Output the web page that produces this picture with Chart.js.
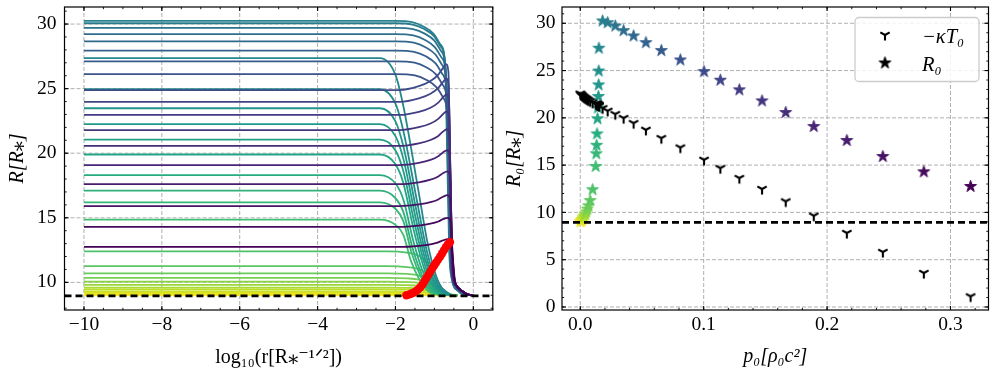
<!DOCTYPE html>
<html><head><meta charset="utf-8">
<script src="https://cdn.jsdelivr.net/npm/chart.js@4/dist/chart.umd.min.js"></script>
<style>
html,body{margin:0;padding:0;background:#fff;}
#wrap{position:relative;width:997px;height:379px;overflow:hidden;}
#c1{position:absolute;left:0;top:0;}
#c2{position:absolute;left:500px;top:0;}
</style></head><body>
<div id="wrap"><canvas id="c1" width="500" height="379"></canvas><canvas id="c2" width="497" height="379"></canvas></div>
<script>
// ---------------- DATA ----------------
const rStar = 8.95; // dashed reference level

// Left panel: radial profiles R(log10 r), grouped by branch (yellow -> purple)
const profilesLow = [
 [[-10,9.0],[-0.4,9.0]],
 [[-10,9.1],[-2.2,9.1],[-1.7,9.1],[-1.4,9.09],[-1.2,9.08],[-1.0,9.05],[-0.8,9.02],[-0.6,9.0],[-0.4,9.0]],
 [[-10,9.2],[-2.2,9.2],[-1.7,9.19],[-1.4,9.18],[-1.2,9.15],[-1.0,9.09],[-0.8,9.03],[-0.6,9.01],[-0.4,9.0]],
 [[-10,9.3],[-2.2,9.3],[-1.7,9.29],[-1.4,9.27],[-1.2,9.23],[-1.0,9.14],[-0.8,9.05],[-0.6,9.01],[-0.4,9.0]],
 [[-10,9.45],[-2.2,9.45],[-1.7,9.44],[-1.4,9.41],[-1.2,9.34],[-1.0,9.2],[-0.8,9.07],[-0.6,9.01],[-0.4,9.0]],
 [[-10,9.6],[-2.2,9.6],[-1.7,9.58],[-1.4,9.54],[-1.2,9.45],[-1.0,9.27],[-0.8,9.09],[-0.6,9.02],[-0.4,9.0]],
 [[-10,9.8],[-2.2,9.8],[-1.7,9.78],[-1.4,9.72],[-1.2,9.6],[-1.0,9.36],[-0.8,9.12],[-0.6,9.02],[-0.4,9.0]],
 [[-10,10.05],[-2.2,10.05],[-1.7,10.02],[-1.4,9.95],[-1.2,9.79],[-1.0,9.47],[-0.8,9.16],[-0.6,9.03],[-0.4,9.0]],
 [[-10,10.35],[-2.2,10.35],[-1.7,10.31],[-1.4,10.22],[-1.2,10.01],[-1.0,9.61],[-0.8,9.2],[-0.6,9.04],[-0.4,9.0]],
 [[-10,10.7],[-2.2,10.7],[-1.7,10.65],[-1.4,10.53],[-1.2,10.28],[-1.0,9.77],[-0.8,9.26],[-0.6,9.05],[-0.4,9.0]],
 [[-10,11.25],[-2.2,11.25],[-1.7,11.18],[-1.4,11.03],[-1.2,10.69],[-1.0,10.01],[-0.8,9.34],[-0.6,9.07],[-0.4,9.0]],
 [[-10,12.4],[-2.2,12.4],[-1.7,12.3],[-1.4,12.06],[-1.2,11.55],[-1.0,10.53],[-0.8,9.51],[-0.6,9.1],[-0.4,9.0]]
];
const profilesMid = [
 [[-10,14.86],[-2.4,14.86],[-2.0,14.45],[-1.8,13.69],[-1.6,11.64],[-1.375,10.17],[-1.15,9.29],[-0.85,9.0]],
 [[-10,16.2],[-2.4,16.2],[-2.0,15.7],[-1.8,14.76],[-1.58,12.24],[-1.35,10.44],[-1.12,9.36],[-0.82,9.0]],
 [[-10,17.1],[-2.4,17.1],[-2.0,16.53],[-1.8,15.48],[-1.56,12.65],[-1.325,10.62],[-1.09,9.41],[-0.79,9.0]],
 [[-10,18.3],[-2.4,18.3],[-2.0,17.65],[-1.8,16.44],[-1.54,13.19],[-1.3,10.86],[-1.06,9.47],[-0.76,9.0]],
 [[-10,19.9],[-2.4,19.9],[-2.0,19.14],[-1.8,17.72],[-1.52,13.91],[-1.275,11.18],[-1.03,9.55],[-0.73,9.0]],
 [[-10,21.05],[-2.4,21.05],[-2.0,20.21],[-1.8,18.64],[-1.5,14.42],[-1.25,11.41],[-1.0,9.6],[-0.7,9.0]],
 [[-10,22.25],[-2.4,22.25],[-2.0,21.32],[-1.8,19.6],[-1.48,14.96],[-1.225,11.65],[-0.97,9.66],[-0.67,9.0]],
 [[-10,23.48],[-2.4,23.48],[-2.0,22.47],[-1.8,20.58],[-1.46,15.52],[-1.2,11.9],[-0.94,9.72],[-0.64,9.0]],
 [[-10,24.95],[-2.4,24.95],[-2.0,23.83],[-1.8,21.76],[-1.44,16.18],[-1.175,12.19],[-0.91,9.8],[-0.61,9.0]],
 [[-10,27.36],[-2.4,27.36],[-2.0,26.07],[-1.8,23.69],[-1.42,17.26],[-1.15,12.67],[-0.88,9.92],[-0.58,9.0]]
];
const profilesHigh = [
 [[-10,30.24],[-2.0,30.24],[-1.57,30.14],[-1.27,29.79],[-1.02,29.24],[-0.85,28.44],[-0.73,27.04],[-0.67,19.77],[-0.62,12.5],[-0.55,10.2],[-0.42,9.4],[-0.22,9.05],[-0.05,9.0]],
 [[-10,30.06],[-2.0,30.06],[-1.56,29.96],[-1.26,29.61],[-1.01,29.06],[-0.84,28.26],[-0.72,26.86],[-0.66,19.68],[-0.61,12.5],[-0.54,10.2],[-0.41,9.4],[-0.21,9.05],[-0.04,9.0]],
 [[-10,29.71],[-2.0,29.71],[-1.55,29.61],[-1.25,29.26],[-1.0,28.71],[-0.83,27.91],[-0.71,26.51],[-0.65,19.51],[-0.60,12.5],[-0.53,10.2],[-0.40,9.4],[-0.20,9.05],[-0.03,9.0]],
 [[-10,29.22],[-2.0,29.22],[-1.54,29.12],[-1.24,28.77],[-0.99,28.22],[-0.82,27.42],[-0.70,26.02],[-0.64,19.26],[-0.59,12.5],[-0.52,10.2],[-0.39,9.4],[-0.19,9.05],[-0.02,9.0]],
 [[-10,28.66],[-2.0,28.66],[-1.53,28.56],[-1.23,28.21],[-0.98,27.66],[-0.81,26.86],[-0.69,25.46],[-0.63,18.98],[-0.58,12.5],[-0.51,10.2],[-0.38,9.4],[-0.18,9.05],[-0.01,9.0]],
 [[-10,27.95],[-2.0,27.95],[-1.52,27.85],[-1.22,27.5],[-0.97,26.95],[-0.80,26.15],[-0.68,24.75],[-0.62,18.63],[-0.57,12.5],[-0.50,10.2],[-0.37,9.4],[-0.17,9.05],[0.0,9.0]],
 [[-10,27.11],[-2.0,27.11],[-1.51,27.01],[-1.21,26.66],[-0.96,26.11],[-0.79,25.31],[-0.67,23.91],[-0.61,18.21],[-0.56,12.5],[-0.49,10.2],[-0.36,9.4],[-0.16,9.05],[0.01,9.0]],
 [[-10,26.12],[-2.0,26.12],[-1.50,26.02],[-1.20,25.67],[-0.95,25.12],[-0.78,24.32],[-0.66,22.92],[-0.60,17.71],[-0.55,12.5],[-0.48,10.2],[-0.35,9.4],[-0.15,9.05],[0.02,9.0]],
 [[-10,24.89],[-1.9,24.89],[-1.4,25.19],[-1.1,25.59],[-0.9,26.09],[-0.78,26.59],[-0.70,26.89],[-0.64,26.29],[-0.60,18.9],[-0.57,11.5],[-0.53,10.2],[-0.42,9.7],[-0.3,9.35],[-0.18,9.12],[-0.05,9.0]],
 [[-10,23.98],[-1.9,23.98],[-1.4,24.25],[-1.1,24.61],[-0.9,25.06],[-0.78,25.51],[-0.694,25.78],[-0.634,25.24],[-0.594,18.37],[-0.564,11.5],[-0.524,10.2],[-0.42,9.7],[-0.3,9.35],[-0.18,9.12],[-0.05,9.0]],
 [[-10,22.96],[-1.9,22.96],[-1.4,23.2],[-1.1,23.52],[-0.9,23.92],[-0.78,24.32],[-0.688,24.56],[-0.628,24.08],[-0.588,17.79],[-0.558,11.5],[-0.518,10.2],[-0.42,9.7],[-0.3,9.35],[-0.18,9.12],[-0.05,9.0]],
 [[-10,21.79],[-1.9,21.79],[-1.4,22.01],[-1.1,22.3],[-0.9,22.66],[-0.78,23.02],[-0.682,23.24],[-0.622,22.81],[-0.582,17.16],[-0.552,11.5],[-0.512,10.2],[-0.42,9.7],[-0.3,9.35],[-0.18,9.12],[-0.05,9.0]],
 [[-10,20.56],[-1.9,20.56],[-1.4,20.76],[-1.1,21.02],[-0.9,21.34],[-0.78,21.67],[-0.676,21.86],[-0.616,21.47],[-0.576,16.49],[-0.546,11.5],[-0.506,10.2],[-0.42,9.7],[-0.3,9.35],[-0.18,9.12],[-0.05,9.0]],
 [[-10,19.08],[-1.9,19.08],[-1.4,19.25],[-1.1,19.48],[-0.9,19.77],[-0.78,20.06],[-0.67,20.23],[-0.61,19.89],[-0.57,15.7],[-0.54,11.5],[-0.5,10.2],[-0.42,9.7],[-0.3,9.35],[-0.18,9.12],[-0.05,9.0]],
 [[-10,17.6],[-1.9,17.6],[-1.4,17.75],[-1.1,17.95],[-0.9,18.2],[-0.78,18.45],[-0.664,18.6],[-0.604,18.3],[-0.564,14.9],[-0.534,11.5],[-0.494,10.2],[-0.42,9.7],[-0.3,9.35],[-0.18,9.12],[-0.05,9.0]],
 [[-10,15.91],[-1.9,15.91],[-1.4,16.04],[-1.1,16.21],[-0.9,16.42],[-0.78,16.63],[-0.658,16.76],[-0.598,16.51],[-0.558,14.0],[-0.528,11.5],[-0.488,10.2],[-0.42,9.7],[-0.3,9.35],[-0.18,9.12],[-0.05,9.0]],
 [[-10,14.29],[-1.9,14.29],[-1.4,14.4],[-1.1,14.54],[-0.9,14.71],[-0.78,14.89],[-0.652,14.99],[-0.592,14.78],[-0.552,13.14],[-0.522,11.5],[-0.482,10.2],[-0.42,9.7],[-0.3,9.35],[-0.18,9.12],[-0.05,9.0]],
 [[-10,12.74],[-1.9,12.74],[-1.4,12.83],[-1.1,12.95],[-0.9,13.1],[-0.78,13.25],[-0.646,13.34],[-0.586,13.16],[-0.546,12.33],[-0.516,11.5],[-0.476,10.2],[-0.42,9.7],[-0.3,9.35],[-0.18,9.12],[-0.05,9.0]]
];
// red markers on the left panel
const redX = [-1.72,-1.66,-1.6,-1.54,-1.48,-1.42,-1.36,-1.3,-1.25,-1.2,-1.15,-1.1,-1.05,-1.0,-0.95,-0.9,-0.85,-0.8,-0.75,-0.7,-0.65,-0.6];
const redY = [9.0,9.05,9.12,9.2,9.3,9.45,9.62,9.85,10.1,10.35,10.6,10.85,11.1,11.32,11.55,11.78,12.0,12.25,12.5,12.75,12.95,13.1];

// Right panel: p0, R0 and -kappa T0 per solution (same order as profiles)
const pLow   = [0.0000,0.0006,0.0012,0.0018,0.0025,0.0032,0.0040,0.0048,0.0057,0.0066,0.0080,0.0100];
const R0Low  = [9.0,9.1,9.2,9.3,9.45,9.6,9.8,10.05,10.35,10.7,11.25,12.4];
const kT0Low = [22.55,22.45,22.38,22.3,22.22,22.15,22.08,22.0,21.93,21.85,21.75,21.6];
const pMid   = [0.0125,0.0130,0.0133,0.0136,0.0140,0.0143,0.0147,0.0149,0.0150,0.0151];
const R0Mid  = [14.86,16.2,17.1,18.3,19.9,21.05,22.25,23.48,24.95,27.36];
const kT0Mid = [21.5,21.47,21.45,21.42,21.4,21.37,21.35,21.33,21.31,21.28];
const pHigh   = [0.0181,0.0222,0.0284,0.0351,0.0432,0.0532,0.0657,0.0811,0.1003,0.1135,0.1289,0.1473,0.1665,0.1892,0.2160,0.2452,0.2784,0.3163];
const R0High  = [30.24,30.06,29.71,29.22,28.66,27.95,27.11,26.12,24.89,23.98,22.96,21.79,20.56,19.08,17.60,15.91,14.29,12.74];
const kT0High = [21.02,20.74,20.39,19.97,19.44,18.73,17.85,16.86,15.56,14.68,13.63,12.47,11.16,9.65,7.82,5.81,3.59,1.12];

// ticks
const xTicksLeft = [-10,-8,-6,-4,-2,0];
const yTicksLeft = [10,15,20,25,30];
const xTicksRight = [0.0,0.1,0.2,0.3];
const yTicksRight = [0,5,10,15,20,25,30];

// ---------------- STYLE / HELPERS ----------------
const SERIF = "'Liberation Serif','DejaVu Serif',serif";
Chart.defaults.color = '#000';
Chart.defaults.font.family = SERIF;

const VIRIDIS = ['#440154','#482475','#414487','#355f8d','#2a788e','#21918c','#22a884','#44bf70','#7ad151','#bddf26','#fde725'];
function hexRgb(h){return [parseInt(h.slice(1,3),16),parseInt(h.slice(3,5),16),parseInt(h.slice(5,7),16)];}
function viridis(t){
  t=Math.max(0,Math.min(1,t)); const f=t*10; const k=Math.min(9,Math.floor(f)); const u=f-k;
  const a=hexRgb(VIRIDIS[k]), b=hexRgb(VIRIDIS[k+1]);
  return 'rgb('+a.map((v,j)=>Math.round(v+(b[j]-v)*u)).join(',')+')';
}
const profiles = profilesLow.concat(profilesMid, profilesHigh);
const N = profiles.length;
const colors = profiles.map((_,i)=>viridis(1 - i/(N-1)));

const pAll = pLow.concat(pMid, pHigh);
const R0All = R0Low.concat(R0Mid, R0High);
const kT0All = kT0Low.concat(kT0Mid, kT0High);

function makeStar(color, r){
  const s = Math.ceil(2*r+4); const c=document.createElement('canvas'); c.width=s; c.height=s;
  const g=c.getContext('2d'); g.translate(s/2,s/2); g.beginPath();
  for(let k=0;k<10;k++){const rr=k%2===0?r:r*0.381966; const a=-Math.PI/2+k*Math.PI/5; g.lineTo(rr*Math.cos(a),rr*Math.sin(a));}
  g.closePath(); g.fillStyle=color; g.fill(); g.strokeStyle=color; g.lineWidth=1; g.lineJoin='miter'; g.stroke();
  return c;
}
function makeTri(r, lw){
  const s = Math.ceil(2*r+lw+3); const c=document.createElement('canvas'); c.width=s; c.height=s;
  const g=c.getContext('2d'); g.translate(s/2,s/2); g.strokeStyle='#000'; g.lineWidth=lw; g.lineCap='butt';
  g.beginPath(); g.moveTo(0,0); g.lineTo(0,r); g.moveTo(0,0); g.lineTo(-0.866*r,-0.5*r); g.moveTo(0,0); g.lineTo(0.866*r,-0.5*r); g.stroke();
  return c;
}
const starImgs = pAll.map((_,i)=>makeStar(colors[i],6.2));
const triImg = makeTri(5.4,2.1);
const starBlack = makeStar('#000',6.2);

function range(a,b,st){const out=[];for(let v=a;v<=b+1e-9;v+=st)out.push(+v.toFixed(6));return out;}

function framePlugin(cfg){
  return {
    id:'frame',
    beforeDatasetsDraw(chart){
      const {ctx, chartArea:a} = chart; const xs=chart.scales.x, ys=chart.scales.y;
      ctx.save(); ctx.strokeStyle='#9c9c9c'; ctx.lineWidth=0.8; ctx.setLineDash([4,2]);
      cfg.xMajor.forEach(v=>{const p=xs.getPixelForValue(v); ctx.beginPath(); ctx.moveTo(p,a.top); ctx.lineTo(p,a.bottom); ctx.stroke();});
      cfg.yMajor.forEach(v=>{const p=ys.getPixelForValue(v); ctx.beginPath(); ctx.moveTo(a.left,p); ctx.lineTo(a.right,p); ctx.stroke();});
      ctx.restore();
    },
    afterDraw(chart){
      const {ctx, chartArea:a} = chart; const xs=chart.scales.x, ys=chart.scales.y;
      ctx.save(); ctx.strokeStyle='#000'; ctx.setLineDash([]);
      const tick=(x1,y1,x2,y2)=>{ctx.beginPath();ctx.moveTo(x1,y1);ctx.lineTo(x2,y2);ctx.stroke();};
      const inX=v=>{const p=xs.getPixelForValue(v); return p>=a.left-0.5 && p<=a.right+0.5 ? p : null;};
      const inY=v=>{const p=ys.getPixelForValue(v); return p>=a.top-0.5 && p<=a.bottom+0.5 ? p : null;};
      ctx.lineWidth=0.9;
      cfg.xMinor.forEach(v=>{const p=inX(v); if(p===null)return; tick(p,a.bottom,p,a.bottom-2.2); tick(p,a.top,p,a.top+2.2);});
      cfg.yMinor.forEach(v=>{const p=inY(v); if(p===null)return; tick(a.left,p,a.left+2.2,p); tick(a.right,p,a.right-2.2,p);});
      ctx.lineWidth=1.1;
      cfg.xMajor.forEach(v=>{const p=inX(v); if(p===null)return; tick(p,a.bottom,p,a.bottom-4); tick(p,a.top,p,a.top+4);});
      cfg.yMajor.forEach(v=>{const p=inY(v); if(p===null)return; tick(a.left,p,a.left+4,p); tick(a.right,p,a.right-4,p);});
      ctx.lineWidth=1.2;
      ctx.strokeRect(a.left,a.top,a.right-a.left,a.bottom-a.top);
      ctx.restore();
    }
  };
}

const legendPlugin = {
  id:'legendBox',
  afterDraw(chart){
    const ctx=chart.ctx; ctx.save();
    const x=355, y=17.5, w=124, h=64, r=4;
    ctx.beginPath(); ctx.moveTo(x+r,y); ctx.arcTo(x+w,y,x+w,y+h,r); ctx.arcTo(x+w,y+h,x,y+h,r); ctx.arcTo(x,y+h,x,y,r); ctx.arcTo(x,y,x+w,y,r); ctx.closePath();
    ctx.fillStyle='rgba(255,255,255,0.85)'; ctx.fill(); ctx.strokeStyle='#cccccc'; ctx.lineWidth=1.3; ctx.stroke();
    ctx.drawImage(triImg, 385-triImg.width/2, 35-triImg.height/2);
    ctx.drawImage(starBlack, 385-starBlack.width/2, 63-starBlack.height/2);
    ctx.fillStyle='#000'; ctx.font='italic 20.5px '+SERIF; ctx.textBaseline='alphabetic'; ctx.textAlign='left';
    const ds=chart.data.datasets;
    ctx.fillText(ds[0].label, 422, 43);
    ctx.fillText(ds[1].label, 422, 71);
    ctx.restore();
  }
};

const tickFont = {family:SERIF, size:19.5};
const titleFontIt = {family:SERIF, size:20, style:'italic'};
const titleFont = {family:SERIF, size:20};
const minus = s => String(s).replace('-', '\u2212');

// ---------------- LEFT CHART ----------------
const leftDatasets = [
  {label:'red', data: redX.map((x,k)=>({x, y:redY[k]})), showLine:false, pointRadius:4.2, pointBackgroundColor:'#ff0000', pointBorderWidth:0, order:-2},
  {label:'R = R*', data:[{x:-10.5,y:rStar},{x:0.5,y:rStar}], showLine:true, borderColor:'#000', borderWidth:2.7, borderDash:[7,4], pointRadius:0, order:-1},
  ...profiles.map((pr,i)=>({label:'R0='+R0All[i], data: pr.map(([x,y])=>({x,y})), showLine:true, borderColor:colors[i], borderWidth:1.8, pointRadius:0, cubicInterpolationMode:'monotone', order:N-i}))
];

new Chart(document.getElementById('c1'), {
  type:'scatter',
  data:{datasets:leftDatasets},
  options:{
    responsive:false, animation:false, events:[],
    layout:{padding:{left:0, top:7, right:7.2, bottom:0}},
    plugins:{legend:{display:false}, tooltip:{enabled:false}},
    scales:{
      x:{type:'linear', min:-10.5, max:0.5, grid:{display:false, drawTicks:false}, border:{display:false},
         afterBuildTicks:s=>{s.ticks=xTicksLeft.map(v=>({value:v}));},
         afterFit:s=>{s.height=69; s.paddingLeft=0; s.paddingRight=0;},
         ticks:{font:tickFont, padding:3.5, maxRotation:0, autoSkip:false, callback:v=>minus(v)},
         title:{display:true, text:'log\u2081\u2080(r[R\u204E\u207B\u00B9\u141F\u00B2])', font:titleFont, padding:{top:0,bottom:9}}},
      y:{type:'linear', min:7.86, max:31.32, grid:{display:false, drawTicks:false}, border:{display:false},
         afterBuildTicks:s=>{s.ticks=yTicksLeft.map(v=>({value:v}));},
         afterFit:s=>{s.width=64.5; s.paddingTop=0; s.paddingBottom=0;},
         ticks:{font:tickFont, padding:8, autoSkip:false, callback:v=>String(v)},
         title:{display:true, text:'R[R\u204E]', font:titleFontIt, padding:{top:6,bottom:0}}}
    }
  },
  plugins:[framePlugin({xMajor:xTicksLeft, yMajor:yTicksLeft, xMinor:range(-10.5,0.5,0.5), yMinor:range(8,31,1)})]
});

// ---------------- RIGHT CHART ----------------
const rightDatasets = [
  {label:'\u2212\u03BAT\u2080', data:pAll.map((p,k)=>({x:p,y:kT0All[k]})), pointStyle:triImg, pointRadius:5, order:0},
  {label:'R\u2080', data:pAll.map((p,k)=>({x:p,y:R0All[k]})), pointStyle:(c)=>starImgs[c.dataIndex] || starBlack, pointRadius:6, order:1},
  {label:'R = R*', data:[{x:-0.0148,y:rStar},{x:0.3308,y:rStar}], showLine:true, borderColor:'#000', borderWidth:2.7, borderDash:[7,4], pointRadius:0, order:-1}
];

new Chart(document.getElementById('c2'), {
  type:'scatter',
  data:{datasets:rightDatasets},
  options:{
    responsive:false, animation:false, events:[],
    layout:{padding:{left:0, top:7, right:8.5, bottom:0}},
    plugins:{legend:{display:false}, tooltip:{enabled:false}},
    scales:{
      x:{type:'linear', min:-0.0148, max:0.3308, grid:{display:false, drawTicks:false}, border:{display:false},
         afterBuildTicks:s=>{s.ticks=xTicksRight.map(v=>({value:v}));},
         afterFit:s=>{s.height=69; s.paddingLeft=0; s.paddingRight=0;},
         ticks:{font:tickFont, padding:3.5, maxRotation:0, autoSkip:false, callback:v=>Number(v).toFixed(1)},
         title:{display:true, text:'p\u2080[\u03C1\u2080c\u00B2]', font:titleFontIt, padding:{top:0,bottom:10}}},
      y:{type:'linear', min:-0.32, max:31.72, grid:{display:false, drawTicks:false}, border:{display:false},
         afterBuildTicks:s=>{s.ticks=yTicksRight.map(v=>({value:v}));},
         afterFit:s=>{s.width=62; s.paddingTop=0; s.paddingBottom=0;},
         ticks:{font:tickFont, padding:6.5, autoSkip:false, callback:v=>String(v)},
         title:{display:true, text:'R\u2080[R\u204E]', font:titleFontIt, padding:{top:3,bottom:0}}}
    }
  },
  plugins:[framePlugin({xMajor:xTicksRight, yMajor:yTicksRight, xMinor:range(0,0.32,0.02), yMinor:range(0,31,1)}), legendPlugin]
});
</script></body></html>
